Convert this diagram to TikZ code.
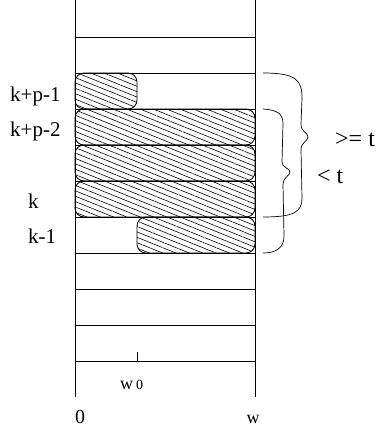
\documentclass[tikz,border=0pt]{standalone}
\usepackage{fontspec}
\setmainfont{Liberation Serif}
\usepackage{tikz}
\usetikzlibrary{patterns.meta}

\begin{document}
\begin{tikzpicture}[x=1pt, y=-1pt,
  rule/.style  = {line width=0.8pt},
  slot/.style  = {line width=0.8pt, rounded corners=9pt,
                  pattern={Lines[angle=-22,distance=5pt,line width=0.6pt]}},
  brace/.style = {line width=0.7pt},
  lbl/.style   = {inner sep=0pt, font=\fontsize{21}{21}\selectfont},
  big/.style   = {inner sep=0pt, font=\fontsize{24}{24}\selectfont},
]
  \useasboundingbox (0,0) rectangle (381,430);

  % the two walls and the rows
  \draw[rule] (75,0) -- (75,397);
  \draw[rule] (255,0) -- (255,397);
  \foreach \y in {37,73,...,361}
    \draw[rule] (75,\y) -- (255,\y);
  \draw[rule] (137,352) -- (137,361);

  % occupied parts
  \draw[slot] (75,73) rectangle (137,109);
  \foreach \y in {109,145,181}
    \draw[slot] (75,\y) rectangle (255,\y+36);
  \draw[slot] (137,217) rectangle (255,253);

  % braces
  \draw[brace] (263,73) .. controls (296,73) and (302,80) .. (302,98)
    -- (301,124) .. controls (301,132) and (308,133) .. (308,137)
    .. controls (308,141) and (301,142) .. (301,150)
    -- (302,198) .. controls (302,212) and (294,217) .. (263,217);
  \draw[brace] (263,109) .. controls (278,110) and (283,114) .. (283,124)
    -- (282,162) .. controls (282,168) and (290,168) .. (290,172)
    .. controls (290,176) and (283,177) .. (283,184)
    -- (284,236) .. controls (284,248) and (276,253) .. (263,253);

  % labels
  \node[lbl, anchor=base west] (kp1) at (10,102) {k+p-1};
  \node[lbl, anchor=base west] (kp2) at (10,137) {k+p-2};
  \node[lbl, anchor=base west] (k)   at (28,208) {k};
  \node[lbl, anchor=base west] (km1) at (28,243) {k-1};
  \node[big, anchor=base west] (ge)  at (335,147) {>= t};
  \node[big, anchor=base west] (lt)  at (317,183) {< t};
  \node[anchor=base west, inner sep=0pt] (w0) at (120,389)
    {\fontsize{18}{18}\selectfont w\kern3pt\fontsize{14}{14}\selectfont 0};
  \node[lbl, anchor=base, font=\fontsize{20}{20}\selectfont] (zero) at (80,423) {0};
  \node[lbl, anchor=base, font=\fontsize{18}{18}\selectfont] (wd) at (253,423) {w};
\end{tikzpicture}
\end{document}
